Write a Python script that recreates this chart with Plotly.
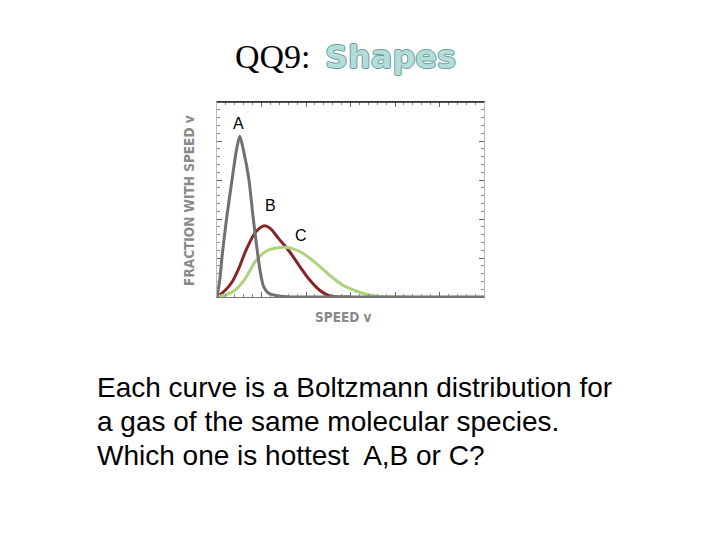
import plotly.graph_objects as go

# ---- data (speed units 0-30, fraction units 0-25) ----
a_speed = [0, 0.29, 0.59, 1.08, 1.71, 2.15, 2.56, 3.01, 3.57, 4.05, 4.49, 4.86, 5.24, 5.8, 6.91, 8.4, 12, 30]
a_frac = [0, 2.0, 5.4, 10.1, 15.2, 18.6, 20.6, 18.6, 15.2, 10.3, 6.24, 3.25, 1.32, 0.47, 0.13, 0, 0, 0]

b_speed = [0, 0.96, 1.71, 2.45, 3.19, 4.12, 4.86, 5.35, 5.98, 6.91, 8.1, 9.25, 10.4, 11.5, 12.6, 13.7, 15]
b_frac = [0, 0.9, 1.96, 3.67, 5.81, 7.95, 8.89, 9.14, 8.8, 7.52, 5.9, 4.0, 2.2, 0.9, 0.17, 0, 0]

c_speed = [0, 0.96, 2.07, 3.19, 4.3, 5.42, 6.53, 7.47, 8.39, 9.6, 11.15, 12.63, 14.1, 15.6, 17.1, 18.6, 20.1, 21.5]
c_frac = [0, 0.26, 0.9, 2.39, 4.53, 5.81, 6.24, 6.37, 6.24, 5.65, 4.32, 2.82, 1.54, 0.77, 0.26, 0.04, 0, 0]

curve_names = ["A", "B", "C"]
curve_colors = ["#707070", "#862626", "#aed27e"]

title_left = "QQ9:"
title_right = "Shapes"
y_title = "FRACTION WITH SPEED v"
x_title = "SPEED v"
body_lines = [
    "Each curve is a Boltzmann distribution for",
    "a gas of the same molecular species.",
    "Which one is hottest  A,B or C?",
]

# plot-area pixel box
PL, PR, PT, PB = 217.0, 484.5, 102.3, 297.0


def px(x):
    return (x - PL) / (PR - PL)


def py(y):
    return (PB - y) / (PB - PT)


fig = go.Figure()
for xs, ys, name, col in zip([a_speed, b_speed, c_speed], [a_frac, b_frac, c_frac], curve_names, curve_colors):
    fig.add_trace(go.Scatter(x=xs, y=ys, mode="lines", name=name,
                             line=dict(color=col, width=3, shape="spline", smoothing=0.8),
                             hoverinfo="skip"))
# draw A last so its grey baseline sits on top
fig.data = (fig.data[1], fig.data[2], fig.data[0])

annotations = []
# curve labels
for name, (lx, ly) in zip(curve_names, [(2.45, 22.3), (6.0, 11.7), (9.45, 7.9)]):
    annotations.append(dict(x=lx, y=ly, xref="x", yref="y", text=name, showarrow=False,
                            font=dict(family="Liberation Sans, Arial, sans-serif", size=16, color="#000")))

# title
annotations.append(dict(x=px(313), y=py(57), xref="paper", yref="paper", text=title_left,
                        showarrow=False, xanchor="right", yanchor="middle",
                        font=dict(family="Liberation Serif, Times New Roman, serif", size=34, color="#000")))
annotations.append(dict(x=px(323), y=py(57), xref="paper", yref="paper", text="<b>" + title_right + "</b>",
                        showarrow=False, xanchor="left", yanchor="middle",
                        font=dict(family="DejaVu Sans, sans-serif", size=32, color="#b4dcd8",
                                  shadow="1px 0 0 #6a9fa0, -1px 0 0 #6a9fa0, 0 1px 0 #6a9fa0, 0 -1px 0 #6a9fa0")))

# axis titles
annotations.append(dict(x=px(189), y=py(201), xref="paper", yref="paper", text="<b>" + y_title + "</b>",
                        showarrow=False, textangle=-90, xanchor="center", yanchor="middle",
                        font=dict(family="Liberation Sans Narrow, DejaVu Sans Condensed, Arial Narrow, sans-serif",
                                  size=13.5, color="#8a8a8a")))
annotations.append(dict(x=px(343.5), y=py(317), xref="paper", yref="paper", text="<b>" + x_title + "</b>",
                        showarrow=False, xanchor="center", yanchor="middle",
                        font=dict(family="Liberation Sans Narrow, DejaVu Sans Condensed, Arial Narrow, sans-serif",
                                  size=13.5, color="#8a8a8a")))

# body text
for i, line in enumerate(body_lines):
    annotations.append(dict(x=px(95), y=py(387 + 34 * i), xref="paper", yref="paper", text=line,
                            showarrow=False, xanchor="left", yanchor="middle",
                            font=dict(family="Liberation Sans, Arial, sans-serif", size=28, color="#000")))

fig.update_layout(
    width=720, height=540,
    margin=dict(l=PL, r=720 - PR, t=PT, b=540 - PB, pad=0),
    paper_bgcolor="white", plot_bgcolor="white",
    showlegend=False,
    annotations=annotations,
    shapes=[dict(type="line", xref="paper", yref="paper", x0=0, x1=1, y0=1, y1=1,
                 line=dict(color="#222", width=1.5), layer="above")],
    xaxis=dict(range=[0, 30], showgrid=False, zeroline=False, showticklabels=False,
               showline=True, linecolor="#777", linewidth=1, mirror="ticks",
               ticks="inside", dtick=5, tick0=0, ticklen=5, tickcolor="#666", tickwidth=1,
               minor=dict(dtick=1, ticks="inside", ticklen=3, tickcolor="#888", showgrid=False)),
    yaxis=dict(range=[0, 25], showgrid=False, zeroline=False, showticklabels=False,
               showline=True, linecolor="#bbb", linewidth=1, mirror="ticks",
               ticks="inside", dtick=5, tick0=0, ticklen=5, tickcolor="#666", tickwidth=1,
               minor=dict(dtick=1, ticks="inside", ticklen=3, tickcolor="#888", showgrid=False)),
)

fig.write_html("out.html", config={"displayModeBar": False},
               post_script="document.body.style.margin='0';")
